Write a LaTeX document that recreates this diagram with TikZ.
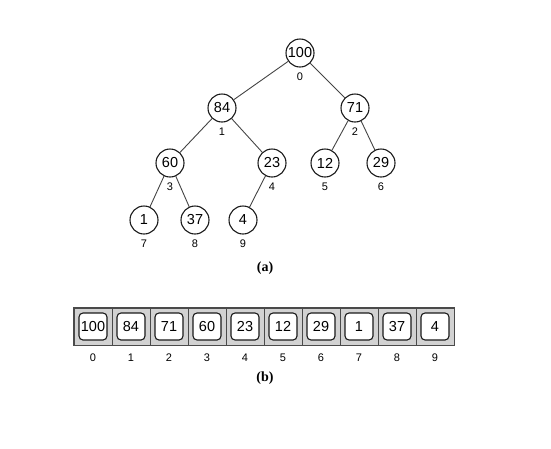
\documentclass[tikz,border=0pt]{standalone}
\usepackage{fontspec}
\setmainfont{Liberation Sans}
\newfontfamily\capfont{Liberation Serif}
\usepackage{tikz}
\usepackage{xcolor}
\usetikzlibrary{positioning}
\definecolor{hpink}{HTML}{1A1A1A}
\definecolor{hpedge}{HTML}{444444}
\definecolor{hpcell}{HTML}{D2D2D2}
\definecolor{hpframe}{HTML}{4A4A4A}
\tikzset{
  hpnode/.style={circle, draw=hpink, line width=1.1pt, fill=white, minimum size=28pt, inner sep=0pt,
    font=\fontsize{14.5}{14.5}\selectfont},
  hpidx/.style={inner sep=1pt, font=\fontsize{11}{11}\selectfont},
  hpedge/.style={draw=hpedge, line width=0.9pt},
  hpcellbox/.style={draw=hpframe, fill=hpcell, minimum width=38pt, minimum height=37pt, inner sep=0pt},
  hpkey/.style={draw=hpink, line width=1.1pt, fill=white, rounded corners=4pt, minimum width=28pt,
    minimum height=27pt, inner sep=0pt, font=\fontsize{14.5}{14.5}\selectfont},
  hpcap/.style={font=\capfont\bfseries\fontsize{14}{14}\selectfont}
}
\begin{document}
\begin{tikzpicture}[x=1pt, y=-1pt]
\useasboundingbox (0,0) rectangle (551,448);
% tree
\node[hpnode] (n0) at (300,53) {100};
\node[hpnode] (n1) at (222,108) {84};
\node[hpnode] (n2) at (355,108) {71};
\node[hpnode] (n3) at (170,163) {60};
\node[hpnode] (n4) at (272,163) {23};
\node[hpnode] (n5) at (325,163) {12};
\node[hpnode] (n6) at (381,163) {29};
\node[hpnode] (n7) at (144,220) {1};
\node[hpnode] (n8) at (195,220) {37};
\node[hpnode] (n9) at (243,220) {4};
\foreach \i in {0,...,9}
  \node[hpidx, below=4.5pt of n\i] (i\i) {\i};
\draw[hpedge] (n0) -- (n1);
\draw[hpedge] (n0) -- (n2);
\draw[hpedge] (n1) -- (n3);
\draw[hpedge] (n1) -- (n4);
\draw[hpedge] (n2) -- (n5);
\draw[hpedge] (n2) -- (n6);
\draw[hpedge] (n3) -- (n7);
\draw[hpedge] (n3) -- (n8);
\draw[hpedge] (n4) -- (n9);
\node[hpcap] (capa) at (265,268) {(a)};
% array
\foreach \v [count=\k from 0] in {100,84,71,60,23,12,29,1,37,4} {
  \node[hpcellbox] (c\k) at (93+38*\k,326.5) {};
  \node[hpkey] (k\k) at (c\k) {\v};
  \node[hpidx] (a\k) at (93+38*\k,358) {\k};
}
\draw[hpframe, line width=1.1pt] (c0.north west) rectangle (c9.south east);
\node[hpcap] (capb) at (265,378) {(b)};
\end{tikzpicture}
\end{document}
